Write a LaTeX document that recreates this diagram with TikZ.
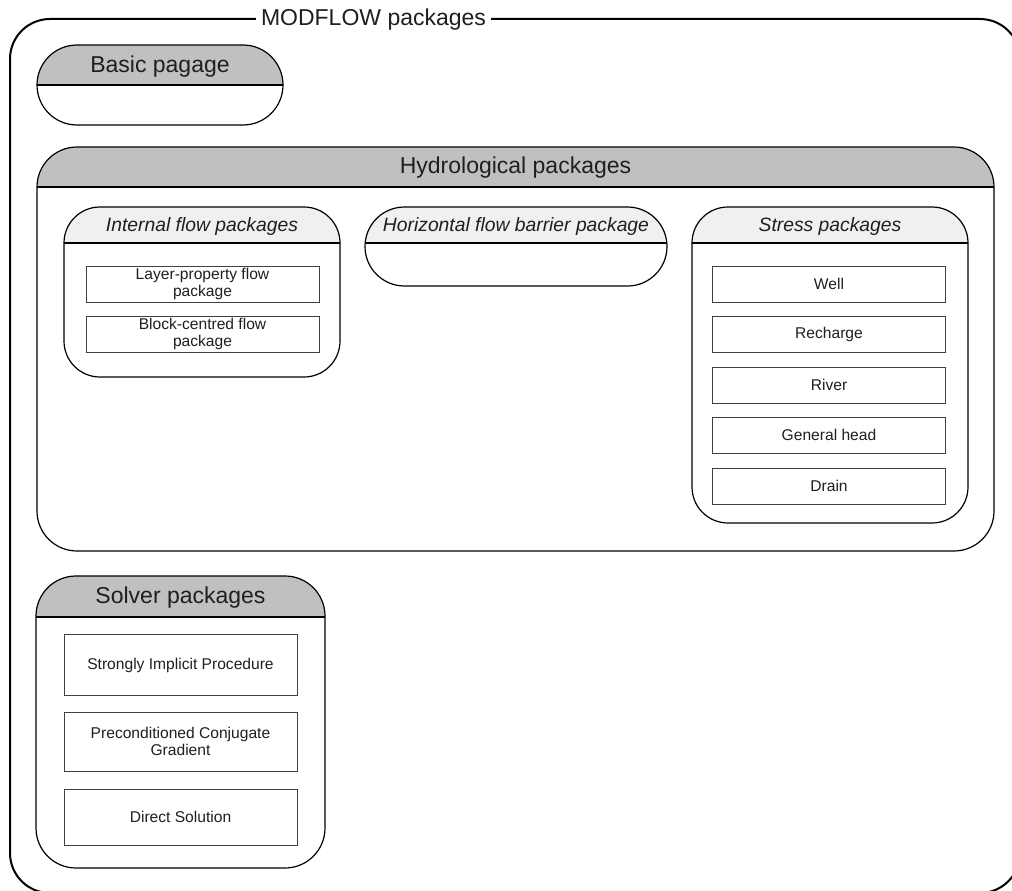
\documentclass[tikz,border=0pt]{standalone}
\usepackage{fontspec}
\setmainfont{Liberation Sans}
\begin{document}
\begin{tikzpicture}[x=1pt,y=-1pt,
  txt/.style={text=black!88},
  bigtitle/.style={txt,font=\fontsize{23}{27}\selectfont},
  ittitle/.style={txt,font=\fontsize{19.3}{22}\selectfont\itshape},
  itembox/.style={draw=black!75,line width=0.9pt,txt,font=\fontsize{15.6}{17}\selectfont,align=center,inner sep=0pt},
  frame/.style={draw=black,line width=1.2pt}]
\useasboundingbox (0,0) rectangle (1012,891);
\definecolor{hdrdark}{HTML}{C0C0C0}
\definecolor{hdrlight}{HTML}{F0F0F0}
\newcommand\pkgbox[7]{%
  \begin{scope}
    \clip[rounded corners=#5] (#1,#2) rectangle (#3,#4);
    \fill[#7] (#1,#2) rectangle (#3,#6);
  \end{scope}
  \draw[frame,rounded corners=#5] (#1,#2) rectangle (#3,#4);
  \draw[frame] (#1,#6) -- (#3,#6);
}
% outer frame
\draw[line width=2pt,rounded corners=40pt] (10,19) rectangle (1020,893);
\node[bigtitle,fill=white,inner xsep=5pt,inner ysep=2pt] (modflow) at (373.5,20) {MODFLOW packages};
% Basic
\pkgbox{37}{45}{283}{125}{40pt}{85}{hdrdark}
\node[bigtitle] (basic) at (160,67) {Basic pagage};
% Hydrological
\pkgbox{37}{147}{994}{551}{40pt}{187}{hdrdark}
\node[bigtitle] (hydro) at (515.5,168) {Hydrological packages};
% Internal flow
\pkgbox{64}{207}{340}{377}{36pt}{243}{hdrlight}
\node[ittitle] (internal) at (202,226.5) {Internal flow packages};
\node[itembox,minimum width=233pt,minimum height=36pt] (lpf) at (202.5,284) {Layer-property flow\\package};
\node[itembox,minimum width=233pt,minimum height=36pt] (bcf) at (202.5,334) {Block-centred flow\\package};
% HFB
\pkgbox{365}{207}{667}{286}{39.5pt}{243}{hdrlight}
\node[ittitle] (hfb) at (516,226.5) {Horizontal flow barrier package};
% Stress
\pkgbox{692}{207}{968}{523}{36pt}{243}{hdrlight}
\node[ittitle] (stress) at (830,226.5) {Stress packages};
\node[itembox,minimum width=233pt,minimum height=36pt] (well) at (829,284) {Well};
\node[itembox,minimum width=233pt,minimum height=36pt] (rch) at (829,334) {Recharge};
\node[itembox,minimum width=233pt,minimum height=36pt] (riv) at (829,385) {River};
\node[itembox,minimum width=233pt,minimum height=36pt] (ghb) at (829,435) {General head};
\node[itembox,minimum width=233pt,minimum height=36pt] (drn) at (829,486) {Drain};
% Solver
\pkgbox{36}{576}{325}{868}{40pt}{617}{hdrdark}
\node[bigtitle] (solver) at (180.5,598) {Solver packages};
\node[itembox,minimum width=233pt,minimum height=61pt] (sip) at (180.5,665) {Strongly Implicit Procedure};
\node[itembox,minimum width=233pt,minimum height=59pt] (pcg) at (180.5,741.5) {Preconditioned Conjugate\\Gradient};
\node[itembox,minimum width=233pt,minimum height=56pt] (de4) at (180.5,817) {Direct Solution};
\end{tikzpicture}
\end{document}
